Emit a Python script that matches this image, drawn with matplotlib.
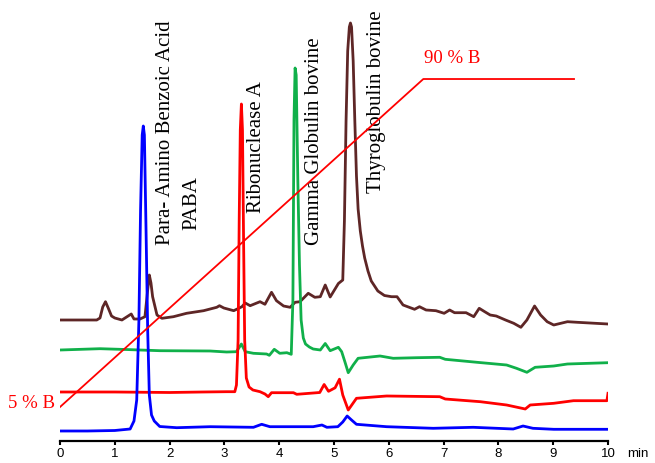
import matplotlib
matplotlib.use('Agg')
import matplotlib.pyplot as plt

# retention time (min) and detector signal (arbitrary units, traces already offset)
t_blue = [0, 0.5, 1.0, 1.28, 1.35, 1.40, 1.44, 1.47, 1.50, 1.52, 1.54, 1.57, 1.60, 1.63, 1.67,
          1.72, 1.82, 2.13, 2.74, 3.53, 3.68, 3.83, 4.26, 4.62, 4.78, 4.87, 5.07, 5.16, 5.24,
          5.32, 5.41, 5.96, 6.81, 7.54, 8.27, 8.45, 8.63, 9.01, 10.0]
s_blue = [10, 10, 10.5, 12, 20, 41, 121, 231, 306, 315, 306, 211, 111, 46, 26,
          20, 14.5, 13.3, 14.3, 13.7, 16.7, 14.3, 14.3, 14.3, 16, 13.7, 14.3, 19, 25,
          21, 16.7, 14.3, 12.7, 13.7, 12, 15, 12.7, 11.7, 11.7]

t_red = [0, 1.0, 2.0, 2.6, 3.04, 3.19, 3.22, 3.25, 3.27, 3.29, 3.31, 3.33, 3.35, 3.37, 3.40,
         3.45, 3.52, 3.65, 3.74, 3.80, 3.86, 4.26, 4.32, 4.74, 4.82, 4.90, 5.02, 5.10, 5.16,
         5.26, 5.41, 5.96, 6.93, 7.03, 7.67, 8.15, 8.49, 8.58, 9.01, 9.37, 9.98, 10.0]
s_red = [49, 49, 48.5, 49, 49.3, 49.3, 56, 101, 221, 311, 337, 311, 201, 101, 63,
         54, 51, 49.3, 47, 44.3, 48.3, 48.3, 46.7, 48.5, 56.5, 49.7, 53.2, 61.8, 46,
         31, 42.7, 45, 44.3, 42, 39.3, 36, 32, 36, 37.7, 40.3, 40.3, 47.7]

t_green = [0, 0.73, 1.2, 1.82, 2.74, 3.04, 3.22, 3.31, 3.38, 3.53, 3.77, 3.82, 3.91, 4.01,
           4.14, 4.22, 4.25, 4.27, 4.29, 4.31, 4.34, 4.37, 4.40, 4.44, 4.48, 4.55, 4.62, 4.75,
           4.84, 4.93, 5.08, 5.14, 5.20, 5.26, 5.35, 5.44, 5.84, 6.08, 6.51, 6.93, 7.03, 7.61,
           8.15, 8.33, 8.52, 8.67, 9.01, 9.26, 10.0]
s_green = [91, 92.3, 91.5, 90.3, 90, 89, 89.3, 97, 89.3, 87.7, 87, 85.7, 91.7, 87.7,
           88.3, 86.7, 141, 321, 373, 366, 261, 176, 121, 103, 97, 94, 92, 91,
           97.5, 90.3, 93.7, 89.3, 79, 68.3, 76, 82.7, 85, 82.7, 83.3, 83.7, 81.7, 78.7,
           76, 72.7, 68.7, 73.7, 75, 77, 78.3]

t_brown = [0, 0.67, 0.73, 0.78, 0.83, 0.88, 0.94, 1.0, 1.13, 1.30, 1.35, 1.46, 1.55, 1.60,
           1.63, 1.66, 1.69, 1.77, 1.86, 2.07, 2.31, 2.62, 2.86, 2.91, 2.99, 3.17, 3.32, 3.38,
           3.47, 3.65, 3.74, 3.86, 3.95, 4.08, 4.20, 4.29, 4.38, 4.53, 4.65, 4.75, 4.84, 4.93,
           5.08, 5.16, 5.19, 5.22, 5.25, 5.28, 5.30, 5.32, 5.35, 5.38, 5.41, 5.44, 5.48, 5.52,
           5.56, 5.62, 5.68, 5.80, 5.92, 6.05, 6.15, 6.26, 6.47, 6.56, 6.68, 6.86, 7.01, 7.11,
           7.20, 7.41, 7.55, 7.65, 7.75, 7.85, 7.96, 8.13, 8.28, 8.41, 8.52, 8.66, 8.77, 8.89,
           9.01, 9.26, 9.44, 10.0]
s_brown = [121, 121, 123, 134, 139.3, 133, 125, 123, 121, 127, 122, 122, 124.3, 151,
           166, 158, 144.3, 126, 122.7, 124.3, 127.7, 130.3, 133.7, 135.3, 133, 130.3, 134.3, 138,
           135.3, 139.3, 136.7, 148.7, 140.3, 135, 133.7, 138.7, 139.3, 147.7, 143.7, 144.3, 156, 144,
           157.5, 161, 220, 320, 390, 414, 418, 414, 380, 320, 265, 232, 210, 195,
           183, 170, 160, 150, 145.5, 144.3, 144.3, 136, 131.7, 134.3, 131, 130.3, 127.7, 131,
           128.3, 128.3, 124.3, 132.7, 129.3, 126, 125, 121, 117.7, 113.7, 121, 135, 126, 119.3,
           116, 119.3, 118.7, 117]

# gradient programme (% B)
t_grad = [0, 6.63, 9.38]
b_grad = [5, 90, 90]

peak_labels = ['Para- Amino Benzoic Acid', 'PABA', 'Ribonuclease A',
               'Gamma Globulin bovine', 'Thyroglobulin bovine']
label_x = [1.93, 2.41, 3.59, 4.65, 5.78]
label_y = [196, 211, 228, 196, 248]

fig = plt.figure(figsize=(6.55, 4.63), dpi=100)
ax = fig.add_axes([60 / 655, 22 / 463, 548 / 655, 436 / 463])

ax.plot(t_brown, s_brown, color='#5e2626', lw=2.0)
ax.plot(t_green, s_green, color='#10b04a', lw=2.0)
ax.plot(t_red, s_red, color='#ff0000', lw=2.0)
ax.plot(t_blue, s_blue, color='#0000ff', lw=2.0)

ax.set_xlim(0, 10)
ax.set_ylim(0, 436)
ax.set_xticks(range(11))
ax.set_yticks([])
for side in ['top', 'right', 'left']:
    ax.spines[side].set_visible(False)
ax.spines['bottom'].set_linewidth(1.6)
ax.tick_params(axis='x', direction='out', length=3, width=1.5, pad=2, labelsize=9.5)
for lbl in ax.get_xticklabels():
    lbl.set_fontfamily('Liberation Sans')
ax.text(10.35, -13, 'min', fontsize=9.5, family='Liberation Sans', va='center', ha='left',
        clip_on=False)

for name, x, y in zip(peak_labels, label_x, label_y):
    ax.text(x, y, name, rotation=90, ha='center', va='bottom', fontsize=15,
            family='Liberation Serif')

# gradient on a hidden twin axis
ax2 = ax.twinx()
ax2.set_ylim(-3.81, 109.18)
ax2.axis('off')
ax2.plot(t_grad, b_grad, color='#ff0000', lw=1.3)
ax2.text(t_grad[1] + 0.01, b_grad[1] + 3, '90 % B', color='#ff0000', fontsize=13.5,
         family='Liberation Serif', ha='left', va='bottom')
ax2.text(-0.09, b_grad[0] + 0.8, '5 % B', color='#ff0000', fontsize=13.5,
         family='Liberation Serif', ha='right', va='center', clip_on=False)

fig.savefig('out.png', dpi=100)
